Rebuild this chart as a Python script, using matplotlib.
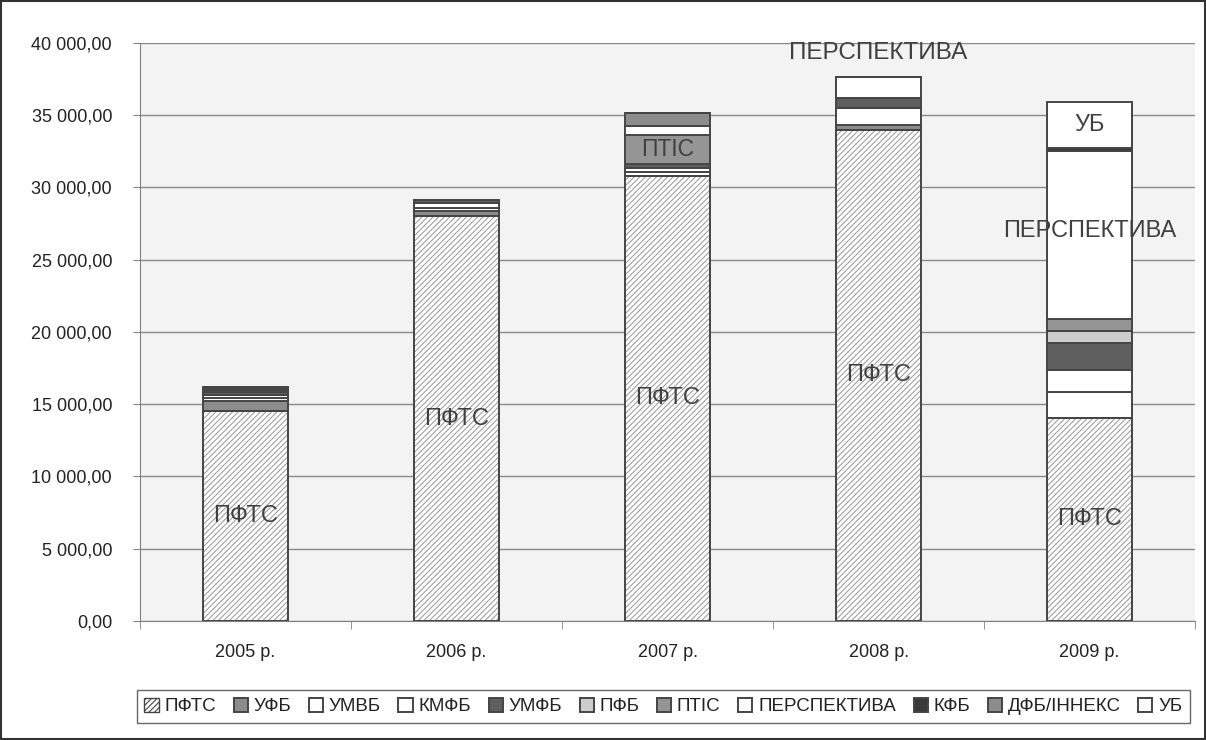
import numpy as np
import matplotlib
matplotlib.use("Agg")
import matplotlib.pyplot as plt
from matplotlib.patches import Rectangle

plt.rcParams["font.family"] = ["Liberation Sans", "DejaVu Sans"]
plt.rcParams["hatch.linewidth"] = 0.8

# Data
years = ["2005 р.", "2006 р.", "2007 р.", "2008 р.", "2009 р."]
series_names = ["ПФТС", "УФБ", "УМВБ", "КМФБ", "УМФБ", "ПФБ", "ПТІС",
                "ПЕРСПЕКТИВА", "КФБ", "ДФБ/ІННЕКС", "УБ"]
pfts = [14500, 28000, 30800, 34000, 14050]
ufb = [700, 350, 0, 350, 0]
umvb = [200, 200, 300, 1180, 1800]
kmfb = [200, 400, 250, 0, 1520]
umfb = [250, 200, 280, 690, 1870]
pfb = [100, 0, 0, 0, 830]
ptis = [100, 0, 2000, 0, 830]
perspektyva = [150, 0, 620, 1450, 11630]
kfb = [0, 0, 0, 0, 200]
dfb = [0, 0, 900, 0, 0]
ub = [0, 0, 0, 0, 3180]

values = [pfts, ufb, umvb, kmfb, umfb, pfb, ptis, perspektyva, kfb, dfb, ub]
colors = ["white", "#8c8c8c", "white", "white", "#5f5f5f", "#cdcdcd",
          "#959595", "white", "#3a3a3a", "#8c8c8c", "white"]

fig = plt.figure(figsize=(12.06, 7.4), dpi=100)
ax = fig.add_axes([0.116, 0.161, 0.875, 0.781])
ax.set_facecolor("#f3f3f3")

x = np.arange(len(years))
bottom = np.zeros(len(years))
handles = []
for name, vals, col in zip(series_names, values, colors):
    vals = np.array(vals, dtype=float)
    if name == "ПФТС":
        # hatch drawn in light gray, outline drawn on top
        ax.bar(x, vals, 0.4, bottom=bottom, color="white", edgecolor="#a0a0a0",
               linewidth=0, hatch="//////", zorder=3)
        bars = ax.bar(x, vals, 0.4, bottom=bottom, fill=False, edgecolor="#454545",
                      linewidth=1.4, zorder=4)
        h = ax.bar([np.nan], [0], color="white", edgecolor="#454545",
                   hatch="//////", linewidth=1)
    else:
        bars = ax.bar(x, vals, 0.4, bottom=bottom, color=col, edgecolor="#454545",
                      linewidth=1.4, zorder=3)
        h = bars
    handles.append(h)
    # labels
    for i, v in enumerate(vals):
        if name == "ПФТС":
            ax.text(x[i], bottom[i] + v / 2, name, ha="center", va="center",
                    fontsize=17, color="#404040", zorder=5)
        if name == "ПТІС" and i == 2:
            ax.text(x[i], bottom[i] + v / 2, name, ha="center", va="center",
                    fontsize=16.5, color="#404040", zorder=5)
        if name == "ПЕРСПЕКТИВА" and i == 4:
            ax.text(x[i], bottom[i] + v / 2 + 300, name, ha="center", va="center",
                    fontsize=17, color="#404040", zorder=5)
        if name == "ПЕРСПЕКТИВА" and i == 3:
            ax.text(x[i], 39300, name, ha="center", va="center",
                    fontsize=17.5, color="#404040", zorder=5)
        if name == "УБ" and i == 4:
            ax.text(x[i], bottom[i] + v / 2, name, ha="center", va="center",
                    fontsize=17, color="#404040", zorder=5)
    bottom += vals

ax.set_xlim(-0.5, 4.5)
ax.set_ylim(0, 40000)
ax.set_yticks(np.arange(0, 40001, 5000))
ax.set_yticklabels([f"{v:,}".replace(",", " ") + ",00" for v in range(0, 40001, 5000)],
                   fontsize=13, color="#222222")
ax.set_xticks(x)
ax.set_xticklabels(years, fontsize=13, color="#222222")
ax.set_xticks(np.arange(-0.5, 5, 1), minor=True)
ax.tick_params(axis="x", which="major", length=0, pad=17)
ax.tick_params(axis="x", which="minor", length=6, color="#808080")
ax.tick_params(axis="y", length=5, color="#808080", pad=15)
ax.grid(axis="y", color="#8a8a8a", linewidth=1, zorder=0)
for s in ["top", "right"]:
    ax.spines[s].set_visible(False)
for s in ["left", "bottom"]:
    ax.spines[s].set_color("#808080")

leg = fig.legend(handles=handles, labels=series_names, loc="center",
                 bbox_to_anchor=(0.55, 0.045), ncol=11, fontsize=13.5,
                 handlelength=0.75, handleheight=0.75, handletextpad=0.3,
                 columnspacing=0.95, frameon=True, fancybox=False,
                 borderpad=0.4, labelcolor="#222222")
leg.get_frame().set_edgecolor("#404040")
leg.get_frame().set_linewidth(1)

fig.patches.append(Rectangle((0.001, 0.001), 0.998, 0.998, transform=fig.transFigure,
                             fill=False, edgecolor="#333333", linewidth=1.5))

fig.savefig("out.png", dpi=100)
